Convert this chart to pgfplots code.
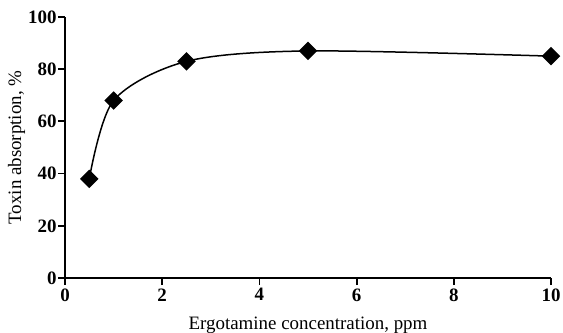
\documentclass[border=0pt]{standalone}
\usepackage{fontspec}
\setmainfont{Liberation Serif}
\usepackage{pgfplots}
\pgfplotsset{compat=1.18}
\begin{document}
\begin{tikzpicture}
\begin{axis}[
  name=main,
  scale only axis,
  width=486bp, height=261bp,
  xmin=0, xmax=10, ymin=0, ymax=100,
  axis x line*=bottom, axis y line*=left,
  axis line style={line width=1.8bp},
  xtick={0,2,4,6,8,10}, ytick={0,20,40,60,80,100},
  tick align=outside,
  major tick length=7bp,
  tick style={line width=1.8bp, black},
  /pgf/number format/assume math mode=true,
  ticklabel style={font=\fontsize{19}{19}\selectfont\bfseries},
  yticklabel style={xshift=2bp},
  xticklabel style={yshift=0bp},
  xlabel={Ergotamine concentration, ppm},
  ylabel={Toxin absorption, \%},
  label style={font=\fontsize{19}{19}\selectfont},
  xlabel style={yshift=-9bp},
  ylabel style={yshift=-4bp},
]
\addplot[black, line width=1.5bp, smooth, tension=0.5, mark=square*, mark size=5.8bp, mark options={rotate=45, fill=black}]
coordinates {(0.5,38) (1,68) (2.5,83) (5,87) (10,85)};
\end{axis}
\pgfresetboundingbox
\path[use as bounding box] (main.south west) ++(-65bp,-55bp) rectangle ++(563bp,333bp);
\end{tikzpicture}
\end{document}
